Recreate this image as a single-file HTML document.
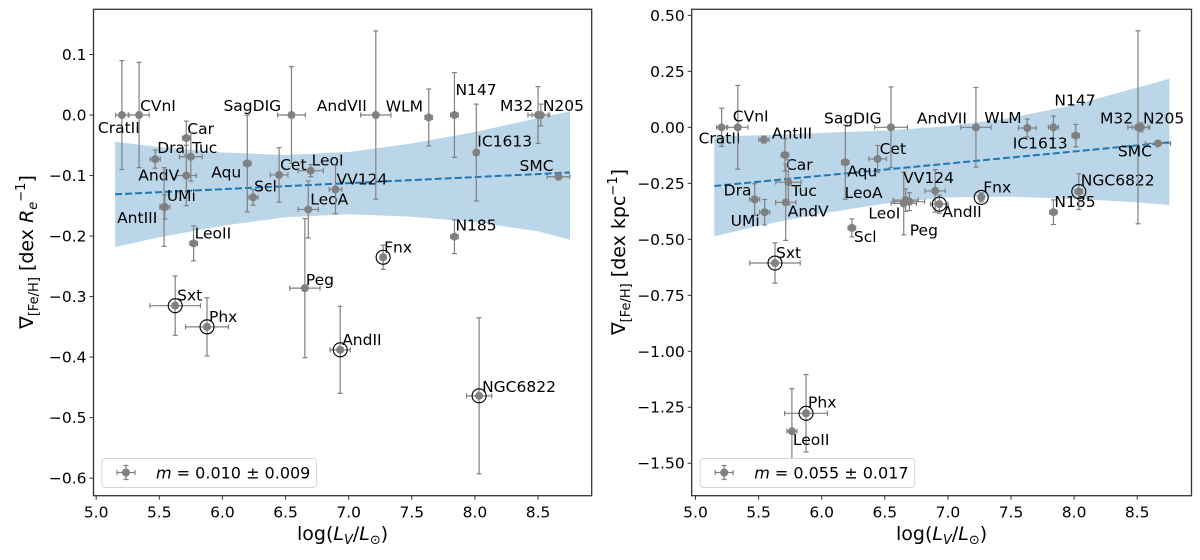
<!DOCTYPE html>
<html><head><meta charset="utf-8"><style>
html,body{margin:0;padding:0;background:#fff}
svg{display:block;font-family:"DejaVu Sans","Liberation Sans",sans-serif}
</style></head><body>
<svg id="chart" width="1200" height="560" viewBox="0 0 1200 560"></svg>
<script>
// ---------- Left panel data ----------
const namesL = ["CratII","CVnI","Car","Dra","Tuc","AndV","UMi","AntIII","LeoII","Aqu","Scl","SagDIG","Cet","LeoI","LeoA","VV124","AndVII","Fnx","WLM","N147","N185","IC1613","M32","N205","SMC","Sxt","Phx","Peg","AndII","NGC6822"];
const xL = [5.204,5.34,5.714,5.468,5.75,5.714,5.544,5.538,5.772,6.197,6.243,6.547,6.449,6.699,6.68,6.896,7.215,7.273,7.634,7.838,7.838,8.011,8.5,8.522,8.662,5.626,5.878,6.653,6.933,8.033];
const yL = [0,0,-0.038,-0.073,-0.069,-0.1,-0.152,-0.152,-0.212,-0.08,-0.136,0,-0.099,-0.092,-0.156,-0.123,0,-0.235,-0.004,0,-0.201,-0.062,0,0,-0.102,-0.315,-0.35,-0.286,-0.388,-0.464];
const xerrL = [0.05,0.08,0.03,0.04,0.09,0.08,0.04,0.03,0.03,0.03,0.04,0.11,0.07,0.1,0.08,0.05,0.12,0.02,0.03,0.03,0.03,0.02,0.08,0.07,0.09,0.2,0.17,0.12,0.08,0.1];
const yerrL = [0.09,0.087,0.028,0.015,0.04,0.05,0.02,0.065,0.029,0.08,0.013,0.08,0.045,0.01,0.047,0.04,0.139,0.02,0.047,0.07,0.028,0.08,0.047,0.018,0.005,0.049,0.048,0.115,0.072,0.129];
const circL = ["Fnx","Sxt","Phx","AndII","NGC6822"];
const bandXL = [5.15,5.5,6.0,6.5,7.0,7.5,8.0,8.5,8.753];
const bandLoL = [-0.218,-0.202,-0.183,-0.169,-0.164,-0.168,-0.177,-0.192,-0.206];
const bandHiL = [-0.044,-0.053,-0.062,-0.066,-0.061,-0.047,-0.028,-0.005,0.006];
const fitXL = [5.15,8.753];
const fitYL = [-0.131,-0.095];
const yTicksL = [0.1,0.0,-0.1,-0.2,-0.3,-0.4,-0.5,-0.6];
const yTickLabelsL = ["0.1","0.0","\u22120.1","\u22120.2","\u22120.3","\u22120.4","\u22120.5","\u22120.6"];
const legendL = "0.010 \u00b1 0.009";

// ---------- Right panel data ----------
const namesR = ["CratII","CVnI","AntIII","Car","Tuc","Dra","UMi","AndV","Sxt","Aqu","Scl","Cet","SagDIG","LeoI","Peg","LeoA","VV124","AndII","AndVII","Fnx","WLM","N147","IC1613","N185","NGC6822","M32","N205","SMC","Phx","LeoII"];
const xR = [5.207,5.335,5.542,5.709,5.736,5.469,5.548,5.715,5.63,6.187,6.239,6.443,6.549,6.695,6.65,6.665,6.899,6.932,7.222,7.264,7.629,7.836,8.013,7.836,8.037,8.506,8.53,8.664,5.876,5.764];
const yR = [0,0,-0.055,-0.124,-0.245,-0.322,-0.379,-0.335,-0.606,-0.156,-0.449,-0.141,0,-0.332,-0.34,-0.325,-0.284,-0.343,0,-0.313,-0.003,0,-0.037,-0.379,-0.287,0,0,-0.072,-1.277,-1.357];
const xerrR = [0.04,0.08,0.04,0.03,0.1,0.04,0.04,0.08,0.2,0.03,0.03,0.07,0.13,0.12,0.1,0.1,0.08,0.07,0.12,0.02,0.07,0.04,0.03,0.03,0.03,0.08,0.07,0.1,0.17,0.04];
const yerrR = [0.085,0.187,0.015,0.072,0.1,0.07,0.057,0.17,0.09,0.165,0.04,0.06,0.18,0.04,0.14,0.05,0.095,0.04,0.178,0.02,0.04,0.05,0.05,0.055,0.08,0.431,0.02,0.01,0.173,0.19];
const circR = ["Sxt","AndII","Fnx","NGC6822","Phx"];
const bandXR = [5.149,5.5,6.0,6.5,7.0,7.5,8.0,8.5,8.755];
const bandLoR = [-0.487,-0.44,-0.385,-0.34,-0.313,-0.31,-0.319,-0.335,-0.347];
const bandHiR = [-0.04,-0.036,-0.025,-0.015,0.005,0.042,0.10,0.177,0.217];
const fitXR = [5.149,8.755];
const fitYR = [-0.262,-0.067];
const yTicksR = [0.5,0.25,0,-0.25,-0.5,-0.75,-1.0,-1.25,-1.5];
const yTickLabelsR = ["0.50","0.25","0.00","\u22120.25","\u22120.50","\u22120.75","\u22121.00","\u22121.25","\u22121.50"];
const legendR = "0.055 \u00b1 0.017";

const xTicks = [5.0,5.5,6.0,6.5,7.0,7.5,8.0,8.5];
const xTickLabels = ["5.0","5.5","6.0","6.5","7.0","7.5","8.0","8.5"];

// label offsets (px, style only)
const offL = {CratII:[-24,18],CVnI:[1,-4],Car:[1,-4],Dra:[2,-6],Tuc:[1,-4],AndV:[-48,5],UMi:[2,-6],AntIII:[-47,16],LeoII:[1,-5],Aqu:[-36,14],Scl:[1,-6],SagDIG:[-68,-4],Cet:[1,-5],LeoI:[1,-5],LeoA:[2,-5],VV124:[1,-5],AndVII:[-59,-4],Fnx:[1,-5],WLM:[-43,-6],N147:[1,-20],N185:[1,-6],IC1613:[1,-6],M32:[-38,-4],N205:[2,-4],SMC:[-39,-6],Sxt:[2,-5],Phx:[2,-5],Peg:[1,-3],AndII:[2,-5],NGC6822:[3,-4]};
const offR = {CratII:[-23,16],CVnI:[-5,-6],AntIII:[8,-1],Car:[1,15],Tuc:[3,14],Dra:[-31,-4],UMi:[-34,14],AndV:[2,14],Sxt:[1,-5],Aqu:[2,14],LeoA:[-61,-2],Scl:[2,14],Cet:[2,-5],SagDIG:[-67,-4],LeoI:[-41,17],Peg:[6,32],VV124:[-32,-8],AndII:[3,13],AndVII:[-59,-4],Fnx:[2,-5],WLM:[-43,-5],N147:[1,-22],IC1613:[-63,13],N185:[1,-5],NGC6822:[2,-6],M32:[-38,-4],N205:[2,-4],SMC:[-40,13],Phx:[2,-6],LeoII:[1,14]};

const NS = "http://www.w3.org/2000/svg";
const svg = document.getElementById('chart');
function mk(tag, attrs, parent){
  const e = document.createElementNS(NS, tag);
  for (const k in attrs) e.setAttribute(k, attrs[k]);
  (parent||svg).appendChild(e);
  return e;
}

function panel(cfg){
  const {id, left, right, top, bottom, xmin, xmax, ymin, ymax} = cfg;
  const sx = v => left + (v - xmin) / (xmax - xmin) * (right - left);
  const sy = v => bottom - (v - ymin) / (ymax - ymin) * (bottom - top);
  const g = mk('g', {});
  
  

  let d = '';
  cfg.bandX.forEach((x,i)=>{ d += (i?'L':'M') + sx(x) + ',' + sy(cfg.bandHi[i]); });
  for (let i = cfg.bandX.length-1; i >= 0; i--) d += 'L' + sx(cfg.bandX[i]) + ',' + sy(cfg.bandLo[i]);
  const band = mk('path', {d: d + 'Z', fill: '#1f77b4', 'fill-opacity': 0.3, stroke: 'none'}, g);
  
  
  const fit = mk('line', {x1: sx(cfg.fitX[0]), y1: sy(cfg.fitY[0]), x2: sx(cfg.fitX[1]), y2: sy(cfg.fitY[1]), stroke: '#1f77b4', 'stroke-width': 2, 'stroke-dasharray': '7,3'}, g);
  
  

  cfg.names.forEach((n,i)=>{
    const px = sx(cfg.x[i]), py = sy(cfg.y[i]);
    const pg = mk('g', {}, g);
    
    
    const x1 = sx(cfg.x[i]-cfg.xerr[i]), x2 = sx(cfg.x[i]+cfg.xerr[i]);
    const y1 = sy(cfg.y[i]+cfg.yerr[i]), y2 = sy(cfg.y[i]-cfg.yerr[i]);
    const st = {stroke: '#808080', 'stroke-width': 1.2};
    mk('line', Object.assign({x1:x1, y1:py, x2:x2, y2:py}, st), pg);
    mk('line', Object.assign({x1:px, y1:y1, x2:px, y2:y2}, st), pg);
    mk('line', Object.assign({x1:x1, y1:py-2.5, x2:x1, y2:py+2.5}, st), pg);
    mk('line', Object.assign({x1:x2, y1:py-2.5, x2:x2, y2:py+2.5}, st), pg);
    mk('line', Object.assign({x1:px-2.5, y1:y1, x2:px+2.5, y2:y1}, st), pg);
    mk('line', Object.assign({x1:px-2.5, y1:y2, x2:px+2.5, y2:y2}, st), pg);
    mk('circle', {cx:px, cy:py, r:4, fill:'#808080'}, pg);
    if (cfg.circ.includes(n)) mk('circle', {cx:px, cy:py, r:7, fill:'none', stroke:'#000', 'stroke-width':1.1}, pg);
    const o = cfg.off[n] || [2,-5];
    const t = mk('text', {x: px + o[0], y: py + o[1], 'font-size': 15.5, fill: '#000'}, g);
    t.textContent = n;
    
    
  });

  const fr = mk('rect', {x:left, y:top, width:right-left, height:bottom-top, fill:'none', stroke:'#333', 'stroke-width':1.3}, g);
  
  

  xTicks.forEach((v,i)=>{
    const x = sx(v);
    mk('line', {x1:x, y1:bottom, x2:x, y2:bottom+4, stroke:'#333', 'stroke-width':1}, g);
    const t = mk('text', {x:x, y:bottom+22, 'font-size':15.5, 'text-anchor':'middle'}, g);
    t.textContent = xTickLabels[i];
    
    
  });
  cfg.yTicks.forEach((v,i)=>{
    const y = sy(v);
    mk('line', {x1:left-4, y1:y, x2:left, y2:y, stroke:'#333', 'stroke-width':1}, g);
    const t = mk('text', {x:left-7, y:y+5.5, 'font-size':15.5, 'text-anchor':'end'}, g);
    t.textContent = cfg.yTickLabels[i];
    
    
  });

  const xt = mk('text', {x:(left+right)/2, y:540, 'font-size':19, 'text-anchor':'middle'}, g);
  xt.innerHTML = 'log(<tspan font-style="italic">L</tspan><tspan font-size="13" font-style="italic" dy="4">V</tspan><tspan dy="-4">/</tspan><tspan font-style="italic">L</tspan><tspan font-size="13" dy="4">\u2299</tspan><tspan dy="-4">)</tspan>';
  
  

  const yt = mk('text', {x:0, y:0, 'font-size':19, 'text-anchor':'middle', transform:'translate(' + cfg.ylabX + ',252) rotate(-90)'}, g);
  yt.innerHTML = '\u2207<tspan font-size="13" dy="5">[Fe/H]</tspan><tspan dy="-5"> [dex </tspan>' + cfg.ylabUnit;
  
  

  const lg = mk('g', {}, g);
  
  
  const lx = left + 8.5;
  mk('rect', {x:lx, y:458.5, width:214.5, height:29, rx:3, fill:'#fff', 'fill-opacity':0.85, stroke:'#d6d6d6'}, lg);
  const mx = lx + 24, my = 472.5;
  mk('line', {x1:mx-9, y1:my, x2:mx+9, y2:my, stroke:'#808080', 'stroke-width':1.2}, lg);
  mk('line', {x1:mx, y1:my-7, x2:mx, y2:my+7, stroke:'#808080', 'stroke-width':1.2}, lg);
  mk('line', {x1:mx-2.5, y1:my-7, x2:mx+2.5, y2:my-7, stroke:'#808080', 'stroke-width':1.2}, lg);
  mk('line', {x1:mx-2.5, y1:my+7, x2:mx+2.5, y2:my+7, stroke:'#808080', 'stroke-width':1.2}, lg);
  mk('line', {x1:mx-9, y1:my-2.5, x2:mx-9, y2:my+2.5, stroke:'#808080', 'stroke-width':1.2}, lg);
  mk('line', {x1:mx+9, y1:my-2.5, x2:mx+9, y2:my+2.5, stroke:'#808080', 'stroke-width':1.2}, lg);
  mk('circle', {cx:mx, cy:my, r:4, fill:'#808080'}, lg);
  const lt = mk('text', {x:lx+54, y:my+6, 'font-size':16}, lg);
  lt.innerHTML = '<tspan font-style="italic">m</tspan> = ' + cfg.legend;
  
  
}

panel({id:'gradient-re', left:93.5, right:591.7, top:9.3, bottom:495.7, xmin:4.979, xmax:8.925, ymin:-0.629, ymax:0.1747,
  names:namesL, x:xL, y:yL, xerr:xerrL, yerr:yerrL, circ:circL, off:offL,
  bandX:bandXL, bandLo:bandLoL, bandHi:bandHiL, fitX:fitXL, fitY:fitYL,
  yTicks:yTicksL, yTickLabels:yTickLabelsL, legend:legendL, ylabX:33,
  ylabUnit:'<tspan font-style="italic">R</tspan><tspan font-size="13" font-style="italic" dy="4">e</tspan><tspan font-size="13" dy="-12">\u22121</tspan><tspan dy="8">]</tspan>'});

panel({id:'gradient-kpc', left:691.7, right:1191.5, top:9.3, bottom:495.7, xmin:4.97, xmax:8.93, ymin:-1.645, ymax:0.527,
  names:namesR, x:xR, y:yR, xerr:xerrR, yerr:yerrR, circ:circR, off:offR,
  bandX:bandXR, bandLo:bandLoR, bandHi:bandHiR, fitX:fitXR, fitY:fitYR,
  yTicks:yTicksR, yTickLabels:yTickLabelsR, legend:legendR, ylabX:625,
  ylabUnit:'kpc<tspan font-size="13" dy="-8">\u22121</tspan><tspan dy="8">]</tspan>'});
</script>
</body></html>
